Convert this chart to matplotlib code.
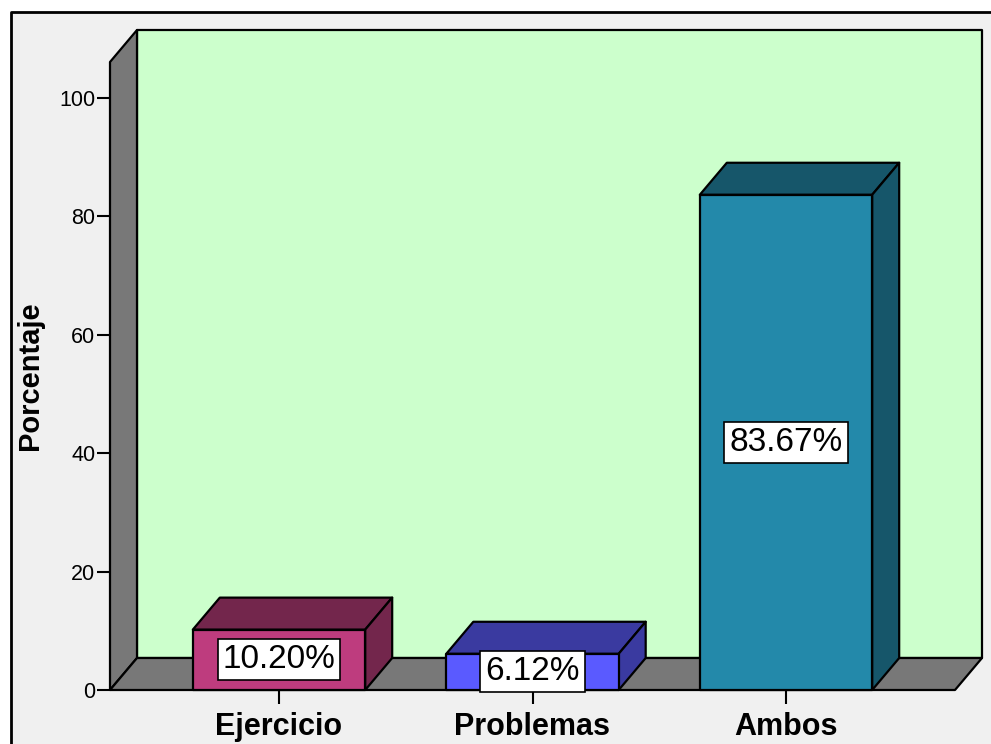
import numpy as np
import matplotlib.pyplot as plt
from matplotlib.patches import Rectangle, Polygon
from matplotlib.lines import Line2D

plt.rcParams['font.family'] = ['Liberation Sans', 'DejaVu Sans']

# datos
categorias = ['Ejercicio', 'Problemas', 'Ambos']
porcentajes = [10.20, 6.12, 83.67]
ticks_y = [0, 20, 40, 60, 80, 100]

# colores de cada barra: cara frontal y caras de sombra
color_frente = ['#BE3C7E', '#5A5AFF', '#2389AA']
color_sombra = ['#73264C', '#3A3AA0', '#16566A']

fig = plt.figure(figsize=(9.91, 7.44), dpi=100, facecolor='white')

# marco de fondo gris claro (solo se ven los bordes superior e izquierdo)
mx, my = 11 / 991, (744 - 12) / 744
fig.add_artist(Rectangle((mx, 0), 1 - mx, my, transform=fig.transFigure,
                         facecolor='#F0F0F0', edgecolor='none', zorder=-2))
fig.add_artist(Line2D([mx, mx, 1], [0, my, my], transform=fig.transFigure,
                      color='black', lw=2, zorder=-1))

ax = fig.add_axes([110 / 991, 54 / 744, 845 / 991, 628 / 744])
ax.set_facecolor('none')
for s in ax.spines.values():
    s.set_visible(False)

x0, x1 = -2 / 3, 2 + 2 / 3
ytop = 106.1
ax.set_xlim(x0, x1)
ax.set_ylim(0, ytop)

# profundidad del efecto 3D (en pixeles) pasada a unidades de datos
px_x = 845 / (x1 - x0)
px_y = 628 / ytop
dx = 27 / px_x
dy = 32 / px_y

borde = dict(edgecolor='black', lw=1.6, clip_on=False, joinstyle='round')

# pared del fondo
ax.add_patch(Rectangle((x0 + dx, dy), x1 - x0, ytop, facecolor='#CCFFCC',
                       zorder=1, **borde))
# pared izquierda
ax.add_patch(Polygon([(x0, 0), (x0, ytop), (x0 + dx, ytop + dy), (x0 + dx, dy)],
                     facecolor='#787878', zorder=2, **borde))
# piso
ax.add_patch(Polygon([(x0, 0), (x1, 0), (x1 + dx, dy), (x0 + dx, dy)],
                     facecolor='#787878', zorder=2, **borde))

# barras
ancho = 0.68
pos = np.arange(len(categorias))
for i, v in enumerate(porcentajes):
    izq = pos[i] - ancho / 2
    der = pos[i] + ancho / 2
    ax.add_patch(Polygon([(izq, v), (der, v), (der + dx, v + dy), (izq + dx, v + dy)],
                         facecolor=color_sombra[i], zorder=3, **borde))
    ax.add_patch(Polygon([(der, 0), (der + dx, dy), (der + dx, v + dy), (der, v)],
                         facecolor=color_sombra[i], zorder=3, **borde))
    ax.add_patch(Rectangle((izq, 0), ancho, v, facecolor=color_frente[i],
                           zorder=4, **borde))
    ax.text(pos[i], v / 2, f'{v:.2f}%', ha='center', va='center',
            fontsize=24, zorder=6,
            bbox=dict(boxstyle='square,pad=0.15', facecolor='white',
                      edgecolor='black', lw=1.2))

# ejes
ax.set_yticks(ticks_y)
ax.set_yticklabels([str(t) for t in ticks_y])
ax.tick_params(axis='y', length=9.5, width=1.5, labelsize=15.5, pad=1)
ax.set_xticks(pos)
ax.set_xticklabels(categorias, fontsize=22, fontweight='bold')
ax.tick_params(axis='x', length=10, width=1.5, pad=6)
ax.set_ylabel('Porcentaje', fontsize=21, fontweight='bold')
ax.yaxis.set_label_coords(-0.078, 0.5)

plt.savefig('out.png', dpi=100)
